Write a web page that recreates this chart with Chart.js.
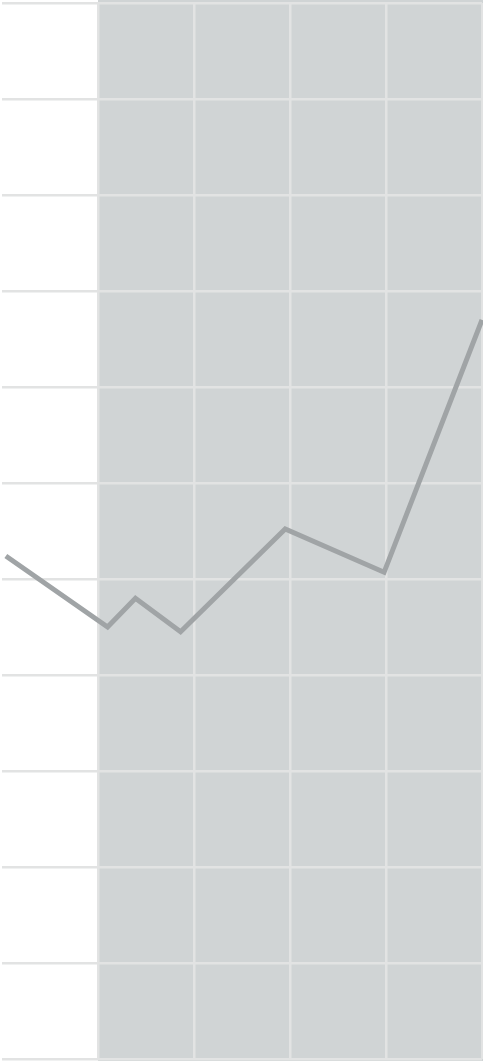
<!DOCTYPE html>
<html lang="en">
<head>
    <meta charset="UTF-8">
    <title>Line chart</title>
    <style>
        body {
            margin: 0;
            padding: 0;
            background-color: #ffffff;
        }

        .chart-container {
            width: 483px;
            height: 1061px;
            position: relative;
        }
    </style>
</head>
<body>
    <div class="chart-container">
        <canvas id="lineChart"></canvas>
    </div>

    <script src="https://cdn.jsdelivr.net/npm/chart.js"></script>
    <script>
        // Values
        const xValues = [0.04, 1.1, 1.39, 1.86, 2.95, 3.98, 5.0];
        const yValues = [5.24, 4.5, 4.8, 4.45, 5.52, 5.07, 7.7];
        const xTicks = [0, 1, 2, 3, 4, 5];
        const yTicks = [0, 1, 2, 3, 4, 5, 6, 7, 8, 9, 10, 11];

        // Gray panel behind the right part of the plot
        const panelPlugin = {
            id: 'panel',
            beforeDraw(chart) {
                const ctx = chart.ctx;
                const area = chart.chartArea;
                const left = chart.scales.x.getPixelForValue(1);
                ctx.save();
                ctx.fillStyle = '#d0d4d5';
                ctx.fillRect(left, 0, area.right - left + 2, area.bottom + 2);
                ctx.restore();
            }
        };

        const ctx = document.getElementById('lineChart').getContext('2d');
        new Chart(ctx, {
            type: 'scatter',
            data: {
                datasets: [{
                    data: xValues.map((x, i) => ({ x: x, y: yValues[i] })),
                    showLine: true,
                    borderColor: '#a0a4a6',
                    borderWidth: 5,
                    pointRadius: 0,
                    tension: 0,
                    clip: false
                }]
            },
            plugins: [panelPlugin],
            options: {
                responsive: true,
                maintainAspectRatio: false,
                animation: false,
                layout: {
                    padding: { top: 3, bottom: 2, left: 2, right: 1 }
                },
                plugins: {
                    legend: { display: false },
                    tooltip: { enabled: false }
                },
                scales: {
                    x: {
                        type: 'linear',
                        min: xTicks[0],
                        max: xTicks[xTicks.length - 1],
                        afterBuildTicks: axis => { axis.ticks = xTicks.map(v => ({ value: v })); },
                        ticks: { display: false },
                        border: { display: false },
                        grid: {
                            drawTicks: false,
                            lineWidth: 2.5,
                            color: c => c.tick && c.tick.value === 0 ? 'rgba(0,0,0,0)' : '#e2e3e3'
                        }
                    },
                    y: {
                        min: yTicks[0],
                        max: yTicks[yTicks.length - 1],
                        afterBuildTicks: axis => { axis.ticks = yTicks.map(v => ({ value: v })); },
                        ticks: { display: false },
                        border: { display: false },
                        grid: {
                            drawTicks: false,
                            lineWidth: 2.5,
                            color: '#e2e3e3'
                        }
                    }
                }
            }
        });
    </script>
</body>
</html>
